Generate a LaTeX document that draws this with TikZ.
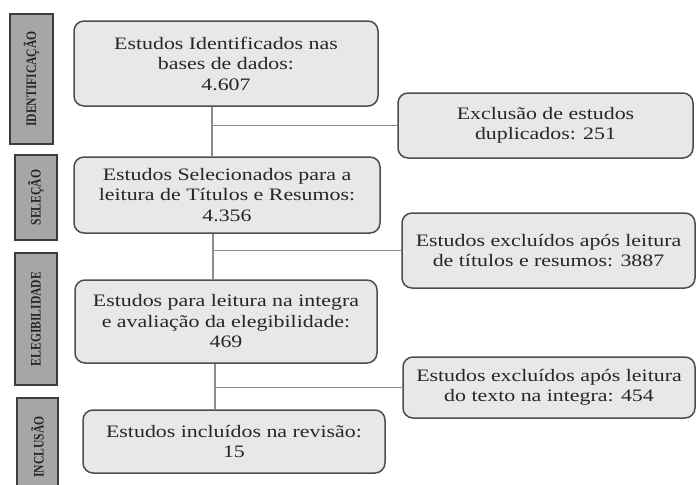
\documentclass[tikz,border=0pt]{standalone}
\usepackage{fontspec}
\setmainfont{Liberation Serif}[FakeStretch=1.25]
\newfontfamily\lblfont{Liberation Serif}[FakeStretch=0.8]
\definecolor{lblfill}{HTML}{A6A6A6}
\definecolor{lbldraw}{HTML}{3C3C3C}
\definecolor{boxfill}{HTML}{E8E8E8}
\definecolor{boxdraw}{HTML}{4D4D4D}
\definecolor{linec}{HTML}{8C8C8C}
\definecolor{txt}{HTML}{262626}
\begin{document}
\begin{tikzpicture}[x=1pt,y=-1pt,
  lbl/.style={draw=lbldraw, fill=lblfill, line width=1.8pt, rotate=90, inner sep=0pt,
    text=txt, font=\lblfont\bfseries\fontsize{14.5}{14.5}\selectfont},
  stage/.style={draw=boxdraw, fill=boxfill, line width=1.5pt, rounded corners=10pt,
    align=center, inner sep=2pt, text=txt, font=\fontsize{17.5}{20.5}\selectfont},
  conn/.style={draw=linec, line width=1.3pt}]
\fill[white] (0,0) rectangle (697,485);
\useasboundingbox (0,0) rectangle (697,485);

% stage labels
\node[lbl, minimum width=130pt, minimum height=43pt] (L1) at (31.5,79) {IDENTIFICAÇÃO};
\node[lbl, minimum width=85pt, minimum height=42pt] (L2) at (36,197.5) {SELEÇÃO};
\node[lbl, minimum width=132pt, minimum height=42pt] (L3) at (36,319) {ELEGIBILIDADE};
\begin{scope}
\clip (0,0) rectangle (697,485);
\node[lbl, minimum width=98pt, minimum height=41pt] (L4) at (37.5,447) {INCLUSÃO};
\end{scope}

% main boxes
\node[stage, minimum width=304pt, minimum height=85pt] (B1) at (226,63.5)
  {Estudos Identificados nas\\bases de dados:\\4.607};
\node[stage, minimum width=306pt, minimum height=76pt] (B2) at (227,195)
  {Estudos Selecionados para a\\leitura de Títulos e Resumos:\\4.356};
\node[stage, minimum width=302pt, minimum height=83pt] (B3) at (226,321.5)
  {Estudos para leitura na integra\\e avaliação da elegibilidade:\\469};
\node[stage, minimum width=302pt, minimum height=63pt] (B4) at (234,441.5)
  {Estudos incluídos na revisão:\\15};

% exclusion boxes
\node[stage, minimum width=295pt, minimum height=65pt] (E1) at (545.5,125.5)
  {Exclusão de estudos\\duplicados: 251};
\node[stage, minimum width=293pt, minimum height=75pt] (E2) at (548.5,250.5)
  {Estudos excluídos após leitura\\de títulos e resumos: 3887};
\node[stage, minimum width=292pt, minimum height=61pt] (E3) at (549,387.5)
  {Estudos excluídos após leitura\\do texto na integra: 454};

% connectors
\coordinate (j1) at (212,0);
\coordinate (j2) at (213,0);
\coordinate (j3) at (215,0);
\draw[conn] (B1.south -| j1) -- (B2.north -| j1);
\draw[conn] (j1 |- E1.west) -- (E1.west);
\draw[conn] (B2.south -| j2) -- (B3.north -| j2);
\draw[conn] (j2 |- E2.west) -- (E2.west);
\draw[conn] (B3.south -| j3) -- (B4.north -| j3);
\draw[conn] (j3 |- E3.west) -- (E3.west);
\end{tikzpicture}
\end{document}
